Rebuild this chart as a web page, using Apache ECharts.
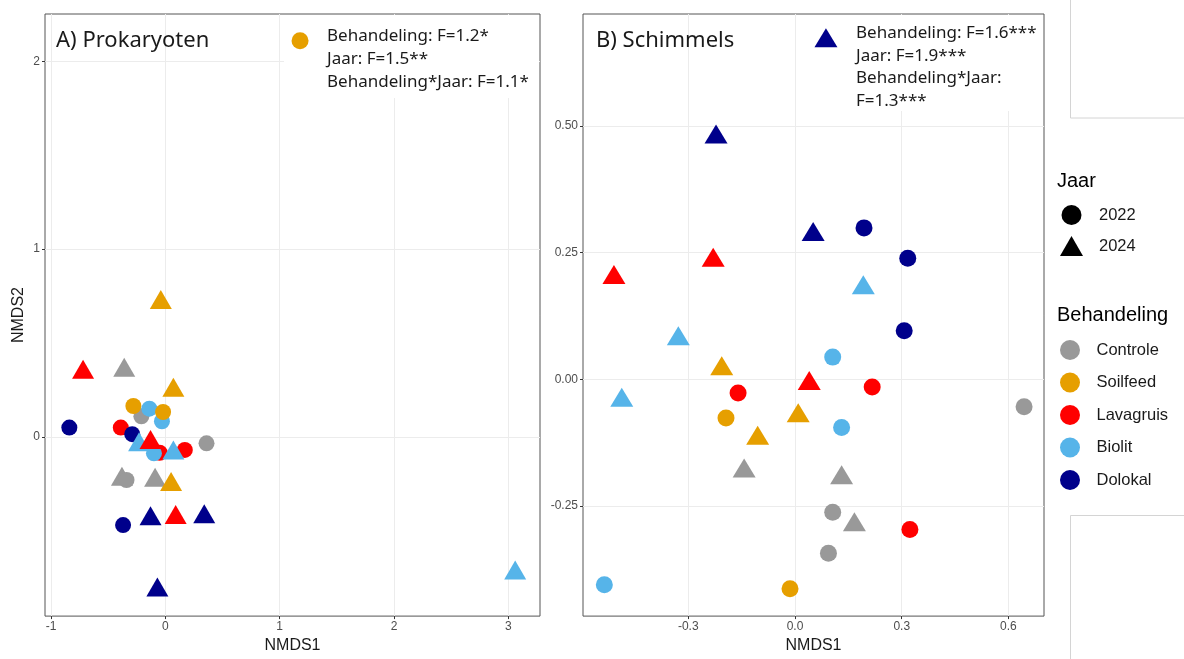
<!DOCTYPE html>
<html><head><meta charset="utf-8">
<script src="https://cdn.jsdelivr.net/npm/echarts@6/dist/echarts.min.js"></script>
<style>html,body{margin:0;padding:0;background:#fff}#c{width:1184px;height:659px}</style>
</head><body><div id="c"></div>
<script>
// ---------- DATA ----------
const treatments = ['Controle', 'Soilfeed', 'Lavagruis', 'Biolit', 'Dolokal'];
const treatmentColors = ['#999999', '#E69F00', '#FF0000', '#56B4E9', '#00008B'];
const years = ['2022', '2024'];

// A) Prokaryoten: [NMDS1, NMDS2, Behandeling, Jaar] (drawing order)
const prokaryotenPoints = [
  [-0.21, 0.109, 'Controle', '2022'],
  [0.36, -0.035, 'Controle', '2022'],
  [-0.36, 0.37, 'Controle', '2024'],
  [-0.38, -0.21, 'Controle', '2024'],
  [-0.34, -0.23, 'Controle', '2022'],
  [-0.09, -0.215, 'Controle', '2024'],
  [-0.28, 0.164, 'Soilfeed', '2022'],
  [-0.04, 0.731, 'Soilfeed', '2024'],
  [0.07, 0.264, 'Soilfeed', '2024'],
  [0.05, -0.238, 'Soilfeed', '2024'],
  [-0.72, 0.36, 'Lavagruis', '2024'],
  [-0.39, 0.049, 'Lavagruis', '2022'],
  [-0.05, -0.085, 'Lavagruis', '2022'],
  [0.17, -0.07, 'Lavagruis', '2022'],
  [0.09, -0.414, 'Lavagruis', '2024'],
  [-0.14, 0.15, 'Biolit', '2022'],
  [-0.03, 0.083, 'Biolit', '2022'],
  [-0.10, -0.088, 'Biolit', '2022'],
  [-0.02, 0.132, 'Soilfeed', '2022'],
  [-0.84, 0.049, 'Dolokal', '2022'],
  [-0.29, 0.014, 'Dolokal', '2022'],
  [-0.37, -0.47, 'Dolokal', '2022'],
  [-0.13, -0.42, 'Dolokal', '2024'],
  [0.34, -0.41, 'Dolokal', '2024'],
  [-0.07, -0.80, 'Dolokal', '2024'],
  [-0.23, -0.026, 'Biolit', '2024'],
  [0.07, -0.07, 'Biolit', '2024'],
  [3.06, -0.71, 'Biolit', '2024'],
  [-0.13, -0.014, 'Lavagruis', '2024']
];

// B) Schimmels: [NMDS1, NMDS2, Behandeling, Jaar]
const schimmelsPoints = [
  [0.644, -0.054, 'Controle', '2022'],
  [0.106, -0.262, 'Controle', '2022'],
  [0.094, -0.343, 'Controle', '2022'],
  [-0.143, -0.175, 'Controle', '2024'],
  [0.131, -0.188, 'Controle', '2024'],
  [0.167, -0.281, 'Controle', '2024'],
  [-0.194, -0.076, 'Soilfeed', '2022'],
  [-0.014, -0.413, 'Soilfeed', '2022'],
  [-0.206, 0.027, 'Soilfeed', '2024'],
  [0.009, -0.066, 'Soilfeed', '2024'],
  [-0.105, -0.110, 'Soilfeed', '2024'],
  [0.217, -0.015, 'Lavagruis', '2022'],
  [-0.160, -0.027, 'Lavagruis', '2022'],
  [0.323, -0.296, 'Lavagruis', '2022'],
  [-0.230, 0.241, 'Lavagruis', '2024'],
  [-0.509, 0.207, 'Lavagruis', '2024'],
  [0.040, -0.002, 'Lavagruis', '2024'],
  [0.106, 0.044, 'Biolit', '2022'],
  [0.131, -0.095, 'Biolit', '2022'],
  [-0.536, -0.405, 'Biolit', '2022'],
  [0.192, 0.187, 'Biolit', '2024'],
  [-0.328, 0.086, 'Biolit', '2024'],
  [-0.487, -0.035, 'Biolit', '2024'],
  [0.194, 0.299, 'Dolokal', '2022'],
  [0.317, 0.239, 'Dolokal', '2022'],
  [0.307, 0.096, 'Dolokal', '2022'],
  [-0.222, 0.484, 'Dolokal', '2024'],
  [0.051, 0.292, 'Dolokal', '2024']
];

// annotation key symbols next to the statistics text
const prokAnnotMarker = [[1.178, 2.11, 'Soilfeed', '2022']];
const schimAnnotMarker = [[0.087, 0.674, 'Dolokal', '2024']];

// axis ranges and ticks
const prokXRange = [-1.053, 3.277];
const prokYRange = [-0.955, 2.252];
const schimXRange = [-0.596, 0.700];
const schimYRange = [-0.467, 0.721];
const prokXTicks = [-1, 0, 1, 2, 3];
const prokYTicks = [0, 1, 2];
const prokXMinor = [-0.5, 0.5, 1.5, 2.5];
const prokYMinor = [-0.5, 0.5, 1.5];
const schimXTicks = [-0.3, 0, 0.3, 0.6];
const schimYTicks = [-0.25, 0, 0.25, 0.5];
const schimXMinor = [-0.45, -0.15, 0.15, 0.45];
const schimYMinor = [-0.375, -0.125, 0.125, 0.375, 0.625];

const annotProk = ['Behandeling: F=1.2*', 'Jaar: F=1.5**', 'Behandeling*Jaar: F=1.1*'];
const annotSchim = ['Behandeling: F=1.6***', 'Jaar: F=1.9***', 'Behandeling*Jaar:', 'F=1.3***'];

// ---------- CHART ----------
const chart = echarts.init(document.getElementById('c'), null, {renderer: 'canvas'});
const colorOf = t => treatmentColors[treatments.indexOf(t)];
const tickFont = {fontSize: 12, color: '#4d4d4d', fontFamily: 'Liberation Sans, Arial, sans-serif'};

function items(rows, circ, tri) {
  return rows.map(r => ({
    value: [r[0], r[1]],
    symbol: r[3] === '2022' ? 'circle' : 'triangle',
    symbolSize: r[3] === '2022' ? circ : tri,
    itemStyle: {color: colorOf(r[2]), opacity: 1}
  }));
}

function mainAxis(gridIndex, range, ticks, fmt, extra) {
  return Object.assign({
    gridIndex, type: 'value', min: range[0], max: range[1],
    axisLine: {show: false, onZero: false},
    axisTick: {show: true, length: 3, customValues: ticks, lineStyle: {color: '#333', width: 1}},
    axisLabel: Object.assign({show: true, customValues: ticks, margin: 5, formatter: fmt}, tickFont),
    splitLine: {show: true, lineStyle: {color: '#ececec', width: 1}},
    minorSplitLine: {show: false}
  }, extra || {});
}
function minorAxis(gridIndex, range, ticks) {
  return {
    gridIndex, type: 'value', min: range[0], max: range[1],
    axisLine: {show: false, onZero: false},
    axisTick: {show: false, customValues: ticks},
    axisLabel: {show: false, customValues: ticks},
    splitLine: {show: true, lineStyle: {color: '#f6f6f6', width: 1}},
    z: -1
  };
}

const nameStyle = {fontSize: 16, color: '#1a1a1a', fontFamily: 'Liberation Sans, Arial, sans-serif'};

const series = [
  {type: 'scatter', name: 'Prokaryoten', xAxisIndex: 0, yAxisIndex: 0, data: items(prokaryotenPoints, 16, [22, 19]), silent: true, z: 5},
  {type: 'scatter', name: 'Schimmels', xAxisIndex: 1, yAxisIndex: 1, data: items(schimmelsPoints, 17, [23, 19]), silent: true, z: 5},
  {type: 'scatter', name: 'keyA', xAxisIndex: 0, yAxisIndex: 0, data: items(prokAnnotMarker, 17, [23, 19]), silent: true, z: 120},
  {type: 'scatter', name: 'keyB', xAxisIndex: 1, yAxisIndex: 1, data: items(schimAnnotMarker, 17, [23, 19]), silent: true, z: 120}
];
// legend-only series
years.forEach(y => series.push({type: 'scatter', name: y, xAxisIndex: 0, yAxisIndex: 0, data: [], itemStyle: {color: '#000', opacity: 1}}));
treatments.forEach((t, i) => series.push({type: 'scatter', name: t, xAxisIndex: 0, yAxisIndex: 0, data: [], itemStyle: {color: treatmentColors[i], opacity: 1}}));

const legendText = pad => ({fontSize: 16.5, color: '#1a1a1a', fontFamily: 'Liberation Sans, Arial, sans-serif', padding: [0, 0, 0, pad]});

const annotFont = 'Noto Sans, sans-serif';
function annotLines(lines, left, top, lh) {
  return lines.map((t, i) => ({
    type: 'text', left, top: top + i * lh, z: 110, silent: true,
    style: {text: t, fontSize: 17, fontFamily: annotFont, fill: '#1a1a1a'}
  }));
}

const option = {
  animation: false,
  backgroundColor: '#ffffff',
  grid: [
    {left: 45, top: 14, width: 495, height: 607, show: true, borderColor: '#555', borderWidth: 1, backgroundColor: '#fff', containLabel: false},
    {left: 583, top: 14, width: 461, height: 607, show: true, borderColor: '#555', borderWidth: 1, backgroundColor: '#fff', containLabel: false}
  ],
  xAxis: [
    mainAxis(0, prokXRange, prokXTicks, v => String(Math.round(v)), {name: 'NMDS1', nameLocation: 'middle', nameGap: 20, nameTextStyle: nameStyle}),
    mainAxis(1, schimXRange, schimXTicks, v => v.toFixed(1), {name: 'NMDS1', nameLocation: 'middle', nameGap: 20, nameTextStyle: nameStyle}),
    minorAxis(0, prokXRange, prokXMinor),
    minorAxis(1, schimXRange, schimXMinor)
  ],
  yAxis: [
    mainAxis(0, prokYRange, prokYTicks, v => String(Math.round(v)), {name: 'NMDS2', nameLocation: 'middle', nameGap: 18, nameTextStyle: nameStyle}),
    mainAxis(1, schimYRange, schimYTicks, v => v.toFixed(2)),
    minorAxis(0, prokYRange, prokYMinor),
    minorAxis(1, schimYRange, schimYMinor)
  ],
  legend: [
    {data: [{name: '2022', icon: 'circle'}, {name: '2024', icon: 'triangle'}], orient: 'vertical', left: 1060, top: 205, padding: 0,
     itemWidth: 23, itemHeight: 20, itemGap: 11, selectedMode: false, textStyle: legendText(11)},
    {data: treatments.map(n => ({name: n, icon: 'circle'})), orient: 'vertical', left: 1060, top: 340, padding: 0,
     itemWidth: 25, itemHeight: 20, itemGap: 12.5, selectedMode: false, textStyle: legendText(9)}
  ],
  series,
  graphic: [
    // white backing boxes of the pasted statistics annotations
    {type: 'rect', silent: true, z: 100, shape: {x: 284, y: 15, width: 255, height: 83}, style: {fill: '#fff'}},
    {type: 'rect', silent: true, z: 100, shape: {x: 812, y: 15, width: 231, height: 96}, style: {fill: '#fff'}},
    {type: 'text', left: 56, top: 30, z: 110, silent: true, style: {text: 'A) Prokaryoten', fontSize: 22, fontFamily: annotFont, fill: '#1a1a1a'}},
    {type: 'text', left: 596, top: 30, z: 110, silent: true, style: {text: 'B) Schimmels', fontSize: 22, fontFamily: annotFont, fill: '#1a1a1a'}},
    ...annotLines(annotProk, 327, 28, 23),
    ...annotLines(annotSchim, 856, 25, 22.4),
    {type: 'text', left: 1057, top: 171, z: 110, silent: true, style: {text: 'Jaar', fontSize: 20, fontFamily: 'Liberation Sans, Arial, sans-serif', fill: '#000'}},
    {type: 'text', left: 1057, top: 305, z: 110, silent: true, style: {text: 'Behandeling', fontSize: 20, fontFamily: 'Liberation Sans, Arial, sans-serif', fill: '#000'}},
    {type: 'rect', silent: true, shape: {x: 1070.5, y: -5, width: 130, height: 123}, style: {fill: 'none', stroke: '#d4d4d4', lineWidth: 1}},
    {type: 'rect', silent: true, shape: {x: 1070.5, y: 515.5, width: 130, height: 160}, style: {fill: 'none', stroke: '#d4d4d4', lineWidth: 1}}
  ]
};
chart.setOption(option);
</script>
</body></html>
